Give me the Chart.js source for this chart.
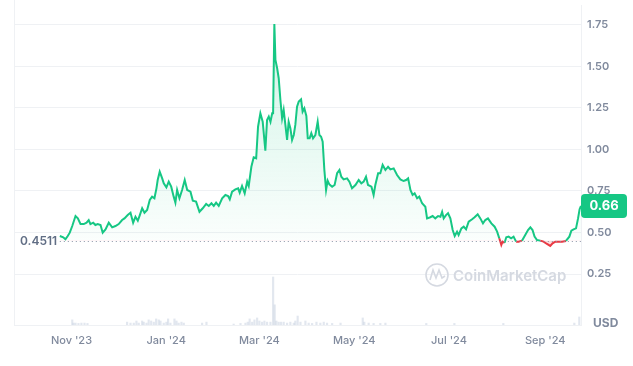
<!DOCTYPE html>
<html>
<head>
<meta charset="utf-8">
<script src="https://cdn.jsdelivr.net/npm/chart.js@4.4.0/dist/chart.umd.min.js"></script>
<style>
  html, body { margin:0; padding:0; background:#fff; }
  #wrap { width:633px; height:366px; position:relative; }
</style>
</head>
<body>
<div id="wrap"><canvas id="chart"></canvas></div>
<script>
// x values are days counted from 25 Sep 2023 (start of the 1Y window)
const baseline = 0.4511;
const lastPrice = 0.66;
const monthTicks = [37, 98, 158, 219, 280, 342];
const monthLabels = ["Nov '23", "Jan '24", "Mar '24", "May '24", "Jul '24", "Sep '24"];
const priceTicks = [0.25, 0.5, 0.75, 1.0, 1.25, 1.5, 1.75];

const priceDays = [
  29.5,31.7,33.1,34.6,35.9,37.5,39.6,41.1,42.8,44.9,46.7,48.1,49.2,51.0,52.4,53.9,55.7,57.1,58.9,61.0,
  63.2,65.3,67.4,69.6,71.1,73.2,75.0,76.7,78.2,79.7,81.0,82.5,84.0,85.7,87.4,88.9,90.4,91.7,92.5,93.8,
  95.4,96.4,98.1,99.6,101.2,102.8,103.9,105.0,106.5,108.2,109.9,111.5,113.6,115.1,117.2,119.4,121.5,123.7,125.4,127.1,
  128.6,130.1,131.8,134.0,136.1,137.8,138.9,140.4,142.5,144.3,145.3,146.8,148.5,150.1,151.1,152.8,154.3,155.9,157.1,158.6,
  160.1,161.8,162.9,164.0,165.1,166.2,166.8,167.6,168.3,169.4,170.4,171.5,172.6,173.6,174.7,175.8,176.8,177.9,179.0,180.1,
  181.1,182.2,183.3,184.8,185.8,186.9,188.2,189.1,190.3,191.4,192.5,194.0,195.5,196.6,197.7,198.7,199.8,200.9,201.9,203.0,
  204.8,206.4,208.0,209.5,210.7,212.2,214.4,215.9,217.6,219.8,221.9,223.6,225.1,226.6,227.9,230.1,231.5,232.6,234.4,235.8,
  237.3,239.1,240.8,242.3,244.4,246.6,248.7,250.8,252.4,253.7,255.2,256.6,257.9,259.5,260.9,262.7,264.8,265.9,268.0,269.5,
  271.2,273.0,274.5,275.6,276.6,278.1,279.4,280.9,282.4,283.7,285.2,286.2,288.0,289.5,291.0,292.7,294.9,296.5,298.5,300.2,
  301.9,303.4,305.1,307.3,309.4,311.0,312.4,313.7,314.5,315.8,316.9,318.4,320.0,321.6,323.2,324.8,327.0,329.1,330.9,332.4,
  333.8,335.1,336.7,338.8,340.9,343.1,345.2,346.7,348.5,350.6,352.8,355.3,357.5,358.8,360.2,361.8,363.1,364.1,365
];
const prices = [
  0.479,0.471,0.459,0.479,0.499,0.539,0.599,0.585,0.551,0.551,0.559,0.575,0.551,0.559,0.545,0.551,0.545,0.499,0.519,0.559,
  0.531,0.539,0.551,0.575,0.585,0.605,0.619,0.559,0.595,0.571,0.605,0.646,0.619,0.636,0.696,0.716,0.706,0.766,0.816,0.866,
  0.826,0.796,0.772,0.806,0.776,0.716,0.680,0.756,0.706,0.756,0.816,0.756,0.746,0.692,0.686,0.625,0.646,0.672,0.660,0.676,
  0.660,0.680,0.660,0.706,0.726,0.720,0.700,0.746,0.760,0.766,0.740,0.780,0.736,0.806,0.780,0.896,0.953,0.947,1.137,1.218,
  1.167,0.993,1.178,1.198,1.167,1.218,1.218,1.756,1.539,1.489,1.429,1.298,1.188,1.238,1.148,1.057,1.167,1.128,1.057,1.087,
  1.148,1.258,1.288,1.302,1.228,1.248,1.202,1.067,1.067,1.098,1.067,1.087,1.167,1.087,1.077,1.047,0.876,0.756,0.812,0.790,
  0.776,0.786,0.857,0.876,0.836,0.820,0.826,0.806,0.766,0.786,0.816,0.796,0.806,0.836,0.786,0.776,0.726,0.786,0.857,0.857,
  0.907,0.876,0.896,0.880,0.886,0.846,0.820,0.810,0.816,0.826,0.756,0.726,0.736,0.706,0.716,0.676,0.655,0.585,0.592,0.599,
  0.585,0.599,0.595,0.625,0.585,0.605,0.616,0.585,0.515,0.479,0.505,0.485,0.525,0.535,0.519,0.565,0.580,0.592,0.610,0.585,
  0.555,0.575,0.585,0.555,0.535,0.505,0.465,0.425,0.445,0.438,0.471,0.475,0.465,0.475,0.445,0.445,0.451,0.485,0.515,0.531,
  0.515,0.475,0.455,0.451,0.445,0.431,0.419,0.435,0.445,0.445,0.445,0.449,0.475,0.511,0.519,0.525,0.585,0.640,0.660
];

// 24h volume, millions USD (rough)
const volDays = [
  37.5,38.3,39.6,41.5,43.4,45.4,47.3,
  72.8,75.0,77.1,78.8,80.3,82.5,83.5,85.3,86.7,88.3,90.0,91.5,93.2,94.3,96.4,98.1,99.2,100.7,103.3,104.6,106.0,107.8,109.3,
  121.1,123.9,
  141.4,145.8,149.0,150.5,151.7,153.3,154.8,156.5,158.0,159.7,161.2,162.9,165.1,
  166.8,167.8,168.9,170.4,171.9,173.6,175.8,177.9,180.1,181.1,182.6,184.4,187.6,189.7,191.9,194.7,197.2,199.4,201.5,204.8,210.2,
  224.5,225.5,228.3,231.5,235.8,239.1,
  265.4,283.5,315.0,360.7,363.9
];
const volumes = [
  1.6,0.6,0.6,0.5,0.6,0.6,0.5,
  0.9,0.6,0.6,1.25,0.6,1.25,0.9,0.6,1.6,1.25,0.9,1.9,1.6,1.25,0.6,0.9,1.9,0.6,1.9,1.25,0.6,0.9,0.6,
  0.6,0.9,
  0.3,0.5,0.6,0.9,1.9,0.9,1.6,2.2,1.25,0.9,1.25,0.9,0.9,
  15,6.3,1.25,0.9,0.9,0.9,0.6,0.9,0.6,1.25,2.8,0.9,1.25,0.6,0.5,0.9,0.6,0.9,0.6,0.5,0.6,
  2.2,0.9,0.6,0.5,0.5,0.6,
  0.5,0.5,0.5,0.6,2.5
];

const green = '#16c784';
const red = '#ea3943';
const axisGray = '#808a9d';
const gridColor = '#eff1f4';

const priceData = priceDays.map((d, i) => ({ x: d, y: prices[i] }));
const volData = volDays.map((d, i) => ({ x: d, y: volumes[i] }));

function areaGradient(context) {
  const chart = context.chart;
  const { chartArea, scales } = chart;
  if (!chartArea) return 'rgba(22,199,132,0.1)';
  const top = scales.y.getPixelForValue(Math.max(...prices));
  const bottom = scales.y.getPixelForValue(baseline);
  const g = chart.ctx.createLinearGradient(0, top, 0, bottom);
  g.addColorStop(0, 'rgba(22,199,132,0.20)');
  g.addColorStop(1, 'rgba(22,199,132,0.02)');
  return g;
}

const decor = {
  id: 'decor',
  beforeDatasetsDraw(chart) {
    const { ctx, chartArea: a } = chart;
    ctx.save();
    // left frame line
    ctx.strokeStyle = gridColor;
    ctx.lineWidth = 1;
    ctx.beginPath();
    ctx.moveTo(a.left + 0.5, 0);
    ctx.lineTo(a.left + 0.5, a.bottom);
    ctx.stroke();
    // watermark
    const wx = a.right - 144, wy = a.bottom - 50;
    ctx.strokeStyle = '#d5d9e1';
    ctx.lineWidth = 1.6;
    ctx.beginPath();
    ctx.arc(wx, wy, 11, 0, Math.PI * 2);
    ctx.stroke();
    ctx.beginPath();
    ctx.moveTo(wx - 7, wy + 5);
    ctx.lineTo(wx - 4, wy - 5);
    ctx.lineTo(wx - 1, wy + 3);
    ctx.lineTo(wx + 2, wy - 5);
    ctx.lineTo(wx + 5, wy + 3);
    ctx.lineTo(wx + 8, wy + 1);
    ctx.stroke();
    ctx.fillStyle = '#d5d9e1';
    ctx.font = '600 15px Inter';
    ctx.textBaseline = 'middle';
    ctx.fillText('CoinMarketCap', wx + 16, wy + 1);
    ctx.restore();
  },
  afterDatasetsDraw(chart) {
    const { ctx, chartArea: a, scales } = chart;
    const y0 = Math.round(scales.y.getPixelForValue(baseline)) + 0.5;
    const x0 = scales.x.getPixelForValue(priceDays[0]);
    ctx.save();
    // dotted baseline
    ctx.strokeStyle = '#8a93a6';
    ctx.lineWidth = 1;
    ctx.setLineDash([1, 3]);
    ctx.beginPath();
    ctx.moveTo(x0, y0);
    ctx.lineTo(a.right, y0);
    ctx.stroke();
    ctx.setLineDash([]);
    // baseline label
    ctx.font = '600 12px Inter';
    ctx.fillStyle = '#616e85';
    ctx.textBaseline = 'middle';
    ctx.textAlign = 'left';
    ctx.fillText(baseline.toString(), a.left + 6, y0);
    // last price badge
    const yl = scales.y.getPixelForValue(lastPrice);
    const bx = a.right, bw = 46, bh = 24;
    ctx.fillStyle = green;
    ctx.beginPath();
    ctx.roundRect(bx, yl - bh / 2, bw, bh, 4);
    ctx.fill();
    ctx.fillStyle = '#fff';
    ctx.font = 'bold 13px Inter';
    ctx.textAlign = 'center';
    ctx.fillText(lastPrice.toFixed(2), bx + bw / 2, yl + 0.5);
    // currency
    ctx.fillStyle = axisGray;
    ctx.font = 'bold 12px Inter';
    ctx.textAlign = 'left';
    ctx.fillText('USD', a.right + 12, a.bottom - 2);
    ctx.restore();
  }
};

new Chart(document.getElementById('chart'), {
  data: {
    datasets: [
      {
        type: 'line',
        data: priceData,
        yAxisID: 'y',
        borderColor: green,
        borderWidth: 2,
        pointRadius: 0,
        tension: 0,
        backgroundColor: areaGradient,
        fill: { target: { value: baseline }, below: 'rgba(234,57,67,0.18)' },
        segment: {
          borderColor: c => ((c.p0.parsed.y + c.p1.parsed.y) / 2 < baseline ? red : green)
        },
        order: 1
      },
      {
        type: 'bar',
        data: volData,
        yAxisID: 'vol',
        backgroundColor: 'rgba(190,202,220,0.45)',
        barThickness: 1.5,
        order: 2
      }
    ]
  },
  options: {
    responsive: true,
    maintainAspectRatio: false,
    devicePixelRatio: 1,
    animation: false,
    layout: { padding: { left: 14, top: 5, right: 0, bottom: 0 } },
    plugins: { legend: { display: false }, tooltip: { enabled: false } },
    scales: {
      x: {
        type: 'linear',
        offset: false,
        min: 0,
        max: 365,
        afterBuildTicks: s => { s.ticks = monthTicks.map(v => ({ value: v })); },
        afterFit: s => { s.height = 41; s.paddingLeft = 0; s.paddingRight = 0; },
        grid: { display: false, drawTicks: false },
        border: { display: true, color: gridColor },
        ticks: {
          padding: 9,
          maxRotation: 0,
          autoSkip: false,
          color: axisGray,
          font: { family: 'Inter', size: 11, weight: '500' },
          callback: v => monthLabels[monthTicks.indexOf(v)]
        }
      },
      y: {
        position: 'right',
        min: -0.057,
        max: 1.87,
        afterBuildTicks: s => { s.ticks = priceTicks.map(v => ({ value: v })); },
        afterFit: s => { s.width = 52; s.paddingTop = 0; s.paddingBottom = 0; },
        grid: { color: gridColor, drawTicks: false },
        border: { display: true, color: gridColor },
        ticks: {
          padding: 6,
          color: axisGray,
          font: { family: 'Inter', size: 11, weight: '600' },
          callback: v => v.toFixed(2)
        }
      },
      vol: {
        display: false,
        min: 0,
        max: 100
      }
    }
  },
  plugins: [decor]
});
</script>
</body>
</html>
